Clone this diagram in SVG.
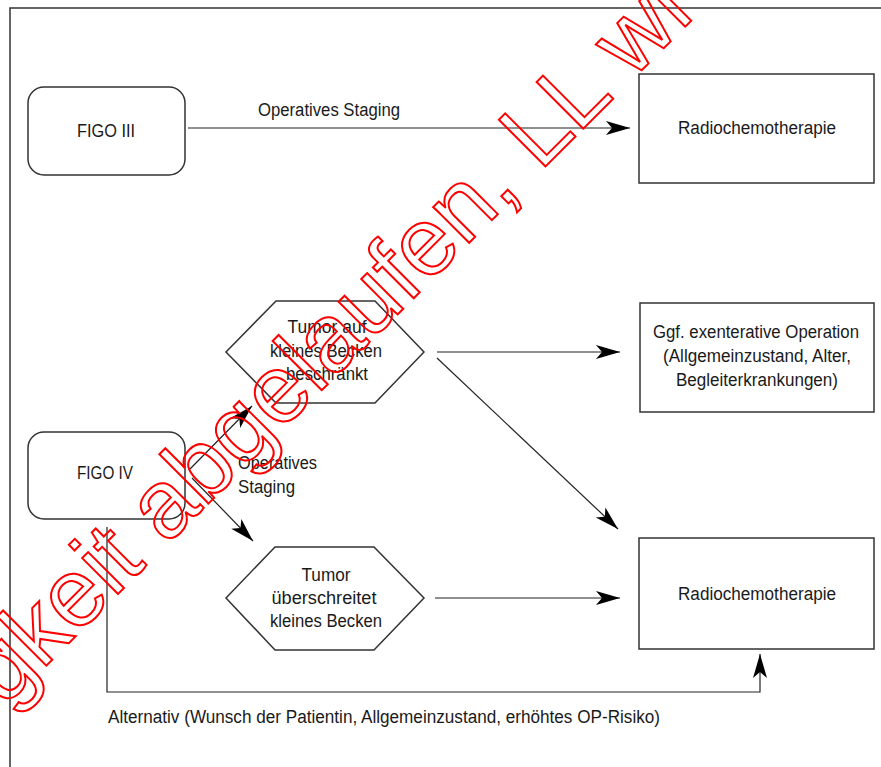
<svg xmlns="http://www.w3.org/2000/svg" width="881" height="767" viewBox="0 0 881 767">
<style>
.t{font-family:"Liberation Sans",Arial,sans-serif;font-size:18px;fill:#1a1a1a;text-anchor:middle}
.l{text-anchor:start}
.box{fill:#fff;stroke:#333;stroke-width:1.5}
.c{fill:none;stroke:#222;stroke-width:1.2}
.wm{font-family:"Liberation Sans",Arial,sans-serif;font-size:96px;fill:none;stroke:#f00;stroke-width:2}
</style>
<defs>
<marker id="ah" markerWidth="26" markerHeight="16" viewBox="-25 -8 26 16" refX="0" refY="0" orient="auto" markerUnits="userSpaceOnUse">
<path d="M0,0 L-24,-7 L-18,0 L-24,7 Z" fill="#000"/>
</marker>
</defs>
<rect width="881" height="767" fill="#fff"/>
<path d="M10,767 V8 H881" fill="none" stroke="#333" stroke-width="1.5"/>

<g id="connectors">
<path class="c" d="M188,128 H630" marker-end="url(#ah)"/>
<path class="c" d="M190,469 L252,406" marker-end="url(#ah)"/>
<path class="c" d="M192,478 L253,541" marker-end="url(#ah)"/>
<path class="c" d="M437,352 H620" marker-end="url(#ah)"/>
<path class="c" d="M437,358 L618,529" marker-end="url(#ah)"/>
<path class="c" d="M435,598 H620" marker-end="url(#ah)"/>
<path class="c" d="M107,527 V692 H760 V654" marker-end="url(#ah)"/>
<text class="t" x="329" y="116" textLength="142" lengthAdjust="spacingAndGlyphs">Operatives Staging</text>
<text class="t l" x="238" y="469" textLength="79" lengthAdjust="spacingAndGlyphs">Operatives</text>
<text class="t l" x="238" y="493" textLength="57" lengthAdjust="spacingAndGlyphs">Staging</text>
<text class="t l" x="108" y="723" textLength="552" lengthAdjust="spacingAndGlyphs">Alternativ (Wunsch der Patientin, Allgemeinzustand, erhöhtes OP-Risiko)</text>
</g>

<g id="figo3">
<rect class="box" x="28" y="87" width="157" height="88" rx="16"/>
<text class="t" x="106" y="137" textLength="58" lengthAdjust="spacingAndGlyphs">FIGO III</text>
</g>
<g id="radio1">
<rect class="box" x="639" y="74" width="235" height="109"/>
<text class="t" x="757" y="134" textLength="158" lengthAdjust="spacingAndGlyphs">Radiochemotherapie</text>
</g>
<g id="hex1">
<polygon class="box" points="226,352 276,301 375,301 424,352 375,403 276,403"/>
<text class="t" x="327" y="333" textLength="79" lengthAdjust="spacingAndGlyphs">Tumor auf</text>
<text class="t" x="326" y="357" textLength="112" lengthAdjust="spacingAndGlyphs">kleines Becken</text>
<text class="t" x="327" y="380" textLength="82" lengthAdjust="spacingAndGlyphs">beschränkt</text>
</g>
<g id="exent">
<rect class="box" x="640" y="303" width="234" height="109"/>
<text class="t" x="756" y="338" textLength="206" lengthAdjust="spacingAndGlyphs">Ggf. exenterative Operation</text>
<text class="t" x="757" y="362" textLength="188" lengthAdjust="spacingAndGlyphs">(Allgemeinzustand, Alter,</text>
<text class="t" x="757" y="386" textLength="162" lengthAdjust="spacingAndGlyphs">Begleiterkrankungen)</text>
</g>
<g id="figo4">
<rect class="box" x="28" y="432" width="157" height="87" rx="16"/>
<text class="t" x="105" y="479" textLength="56" lengthAdjust="spacingAndGlyphs">FIGO IV</text>
</g>
<g id="hex2">
<polygon class="box" points="226,598 275,547 374,547 424,598 374,650 275,650"/>
<text class="t" x="326" y="581" textLength="49" lengthAdjust="spacingAndGlyphs">Tumor</text>
<text class="t" x="324" y="604" textLength="105" lengthAdjust="spacingAndGlyphs">überschreitet</text>
<text class="t" x="326" y="627" textLength="112" lengthAdjust="spacingAndGlyphs">kleines Becken</text>
</g>
<g id="radio2">
<rect class="box" x="639" y="538" width="235" height="111"/>
<text class="t" x="757" y="600" textLength="158" lengthAdjust="spacingAndGlyphs">Radiochemotherapie</text>
</g>

<g id="watermark">
<text class="wm" transform="translate(4,708) rotate(-45)">gkeit abgelaufen, LL wi</text>
</g>
</svg>
